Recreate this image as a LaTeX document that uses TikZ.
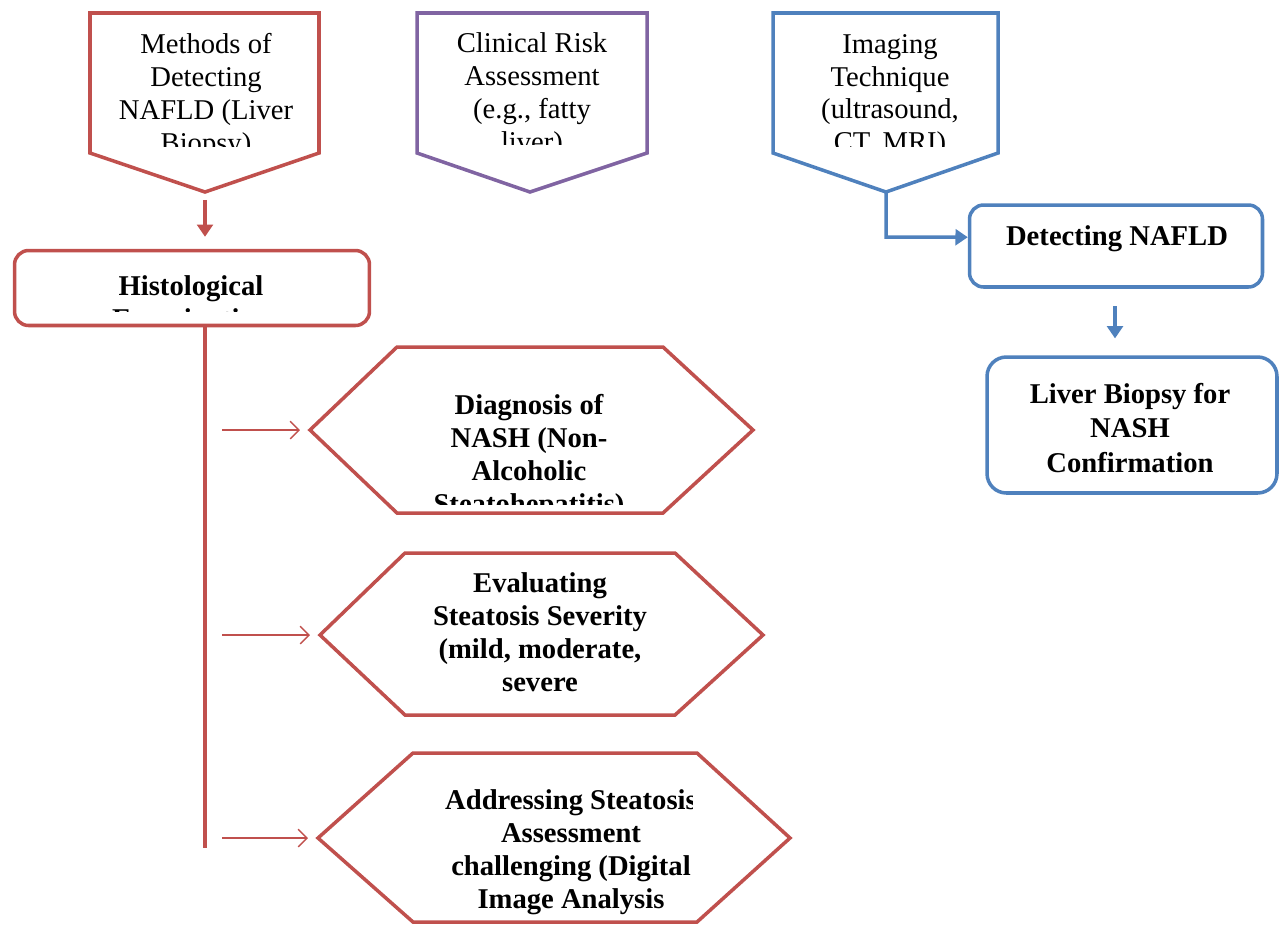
\documentclass[tikz,border=0pt]{standalone}
\usepackage{fontspec}
\setmainfont{Liberation Serif}
\usetikzlibrary{arrows.meta}
\usetikzlibrary{positioning}
\definecolor{nafred}{HTML}{C0504D}
\definecolor{nafpurple}{HTML}{8064A2}
\definecolor{nafblue}{HTML}{4F81BD}

\begin{document}
\begin{tikzpicture}[
    x=0.02cm, y=-0.02cm,
    outline/.style={line width=2pt, line join=miter},
    txt/.style={align=center, inner sep=0pt, font=\fontsize{16.3}{18.7}\selectfont},
    boldtxt/.style={align=center, inner sep=0pt, font=\fontsize{16.3}{18.7}\selectfont\bfseries},
    box/.style={draw, line width=2pt, rounded corners=8pt, inner sep=0pt},
    thinarrow/.style={nafred, line width=0.8pt, -{Straight Barb[length=5pt, width=10pt]}},
    thickarrow/.style={line width=2pt, -{Triangle[length=7pt, width=9pt]}}
]
\useasboundingbox (0,0) rectangle (1280,924);

% --- Top pentagons ---
\draw[outline, nafred] (90,13) -- (319,13) -- (319,153) -- (205,192) coordinate (mtip) -- (90,153) -- cycle;
\draw[outline, nafpurple] (417,13) -- (647,13) -- (647,153) -- (530,192) coordinate (ctip) -- (417,153) -- cycle;
\draw[outline, nafblue] (773,13) -- (998,13) -- (998,153) -- (886,192) coordinate (itip) -- (773,153) -- cycle;

\begin{scope}
    \clip (92,15) rectangle (317,146);
    \node[txt] (methods) at (206,96) {Methods of\\Detecting\\NAFLD (Liver\\Biopsy)};
\end{scope}
\begin{scope}
    \clip (419,15) rectangle (645,144);
    \node[txt] (clinical) at (532,95) {Clinical Risk\\Assessment\\(e.g., fatty\\liver)};
\end{scope}
\begin{scope}
    \clip (775,15) rectangle (996,146);
    \node[txt] (imaging) at (890,96) {Imaging\\Technique\\(ultrasound,\\CT, MRI)};
\end{scope}

% --- Histological examination branch ---
\node[box, nafred, minimum width=7.1cm, minimum height=1.5cm] (histo) at (192,288) {};
\begin{scope}
    \clip (17,252) rectangle (368,311);
    \node[boldtxt] (histotxt) at (191,302) {Histological\\Examination};
\end{scope}
\draw[thickarrow, nafred, shorten <=4.5pt, shorten >=6.8pt] (mtip) -- (mtip |- histo.north);

\coordinate (spine) at (205,848);
\draw[nafred, line width=2pt] (spine |- histo.south) -- (spine);

% --- Hexagons ---
\draw[outline, nafred] (310,430) coordinate (diagw) -- (397,347) -- (663,347) -- (753,430) -- (663,513) -- (397,513) -- cycle;
\draw[outline, nafred] (320,635) coordinate (evalw) -- (405,553) -- (675,553) -- (763,635) -- (675,715) -- (405,715) -- cycle;
\draw[outline, nafred] (318,838) coordinate (addrw) -- (413,753) -- (697,753) -- (790,838) -- (697,922) -- (413,922) -- cycle;

\begin{scope}
    \clip (312,349) rectangle (750,504);
    \node[boldtxt] (diag) at (529,457) {Diagnosis of\\NASH (Non-\\Alcoholic\\Steatohepatitis)};
\end{scope}
\node[boldtxt] (eval) at (540,632) {Evaluating\\Steatosis Severity\\(mild, moderate,\\severe};
\begin{scope}
    \clip (320,755) rectangle (692,920);
    \node[boldtxt] (addr) at (571,852) {Addressing Steatosis\\Assessment\\challenging (Digital\\Image Analysis};
\end{scope}

\foreach \h/\y in {diagw/430, evalw/635, addrw/838}
{
    \coordinate (s\h) at (222,\y);
    \draw[thinarrow, shorten >=5.7pt] (s\h) -- (\h);
}

% --- Imaging branch ---
\node[box, nafblue, minimum width=5.86cm, minimum height=1.64cm] (detect) at (1116,246) {};
\node[boldtxt] (detecttxt) at (1117,239) {Detecting NAFLD};
\draw[thickarrow, nafblue] (itip) -- (itip |- 0,237) -- ([yshift=5pt]detect.west);

\node[box, nafblue, rounded corners=11pt, minimum width=5.8cm, minimum height=2.72cm] (liver) at (1132,425) {};
\node[boldtxt, font=\fontsize{16.3}{19.5}\selectfont\bfseries] (livertxt) at (1130,428) {Liver Biopsy for\\NASH\\Confirmation};
\draw[thickarrow, nafblue, shorten <=10pt, shorten >=9.6pt] (detect.south -| 1115,0) -- (liver.north -| 1115,0);

\end{tikzpicture}
\end{document}
